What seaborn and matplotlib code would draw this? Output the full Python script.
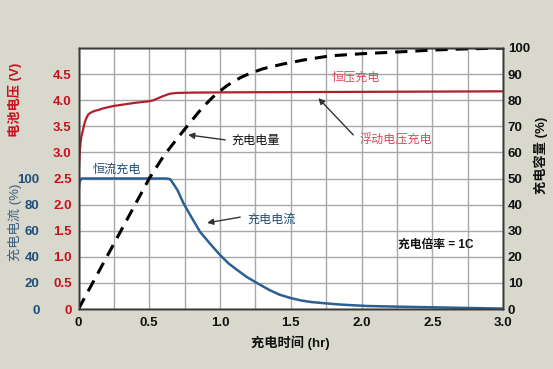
import matplotlib
matplotlib.use("Agg")
import matplotlib.pyplot as plt
import seaborn as sns
import numpy as np

# ---- data ----
volt_t = [0.0, 0.005, 0.01, 0.015, 0.02, 0.026, 0.032, 0.04, 0.05, 0.067, 0.08, 0.1, 0.12, 0.138, 0.17, 0.2, 0.25,
          0.3, 0.35, 0.4, 0.45, 0.5, 0.53, 0.56, 0.59, 0.62, 0.64, 0.66, 0.7, 0.8, 1.0, 1.5, 2.0, 2.5, 3.0]
volt_v = [2.5, 2.8, 3.05, 3.2, 3.3, 3.37, 3.43, 3.53, 3.62, 3.72, 3.75, 3.78, 3.80, 3.81, 3.84, 3.86, 3.89,
          3.91, 3.93, 3.95, 3.965, 3.98, 4.0, 4.035, 4.07, 4.1, 4.12, 4.13, 4.14, 4.145, 4.15, 4.155, 4.16, 4.165, 4.17]

cur_t = [0.0, 0.005, 0.01, 0.02, 0.3, 0.62, 0.648, 0.67, 0.7, 0.742, 0.8, 0.86, 0.93, 1.0, 1.06, 1.12, 1.19, 1.26,
         1.35, 1.42, 1.5, 1.57, 1.64, 1.74, 1.85, 2.04, 2.25, 2.5, 2.75, 3.0]
cur_v = [89, 95, 98, 100, 100, 100, 99.5, 96, 91, 81, 70, 59, 50, 41.4, 35, 30, 24.5, 20,
         14.5, 11, 8.4, 6.6, 5.4, 4.4, 3.4, 2.3, 1.8, 1.3, 0.8, 0.3]

cap_t = [0.0, 0.25, 0.5, 0.6, 0.7, 0.775, 0.85, 0.9, 0.95, 1.0, 1.05, 1.1, 1.15, 1.2, 1.3, 1.44, 1.6, 1.78, 2.0,
         2.3, 2.5, 2.7, 3.0]
cap_v = [0, 25, 50, 58.5, 65.5, 70.5, 75.5, 78.5, 81.2, 83.5, 85.6, 87.3, 88.8, 90, 92, 93.8, 95.5, 97, 97.8,
         98.6, 99.2, 99.6, 100]

x_ticks = [0, 0.5, 1.0, 1.5, 2.0, 2.5, 3.0]
x_labels = ["0", "0.5", "1.0", "1.5", "2.0", "2.5", "3.0"]
v_labels = ["0", "0.5", "1.0", "1.5", "2.0", "2.5", "3.0", "3.5", "4.0", "4.5"]
c_ticks = [0, 20, 40, 60, 80, 100]
q_ticks = [0, 10, 20, 30, 40, 50, 60, 70, 80, 90, 100]

sns.set_theme(style="white")
plt.rcParams['font.family'] = ['Liberation Sans', 'Noto Sans CJK SC', 'DejaVu Sans']
plt.rcParams['axes.unicode_minus'] = False

BG = "#d9d8cc"
RED_LINE = "#b0202c"
RED_TXT = "#c8101e"
PINK = "#d94a5c"
BLUE_LINE = "#2c5f92"
BLUE_TXT = "#1f4e7a"
BLUE_LBL = "#3d5f80"

fig = plt.figure(figsize=(5.53, 3.69), dpi=100, facecolor=BG)
ax = fig.add_axes([78.5/553, 1-309/369, (503-78.5)/553, (309-48)/369])
ax.set_facecolor("white")

ax.set_xlim(0, 3.0)
ax.set_ylim(0, 5.0)
ax.grid(True, color="#a8a8a8", lw=1.0)
ax.set_axisbelow(True)

# voltage
sns.lineplot(x=volt_t, y=volt_v, ax=ax, color=RED_LINE, lw=1.6, estimator=None, sort=False)

# current axis (left, outer)
axc = ax.twinx()
axc.set_ylim(0, 200)
sns.lineplot(x=cur_t, y=cur_v, ax=axc, color=BLUE_LINE, lw=1.8, estimator=None, sort=False)

# capacity axis (right)
axq = ax.twinx()
axq.set_ylim(0, 100)
sns.lineplot(x=cap_t, y=cap_v, ax=axq, color="black", lw=2.2, estimator=None, sort=False)
axq.lines[0].set_linestyle((0, (4, 2.6)))
axq.set_xlim(0, 3.0)

# x ticks labels
grid_x = np.arange(0, 3.01, 0.25)
ax.set_xticks(grid_x)
ax.set_xticklabels([x_labels[x_ticks.index(v)] if v in x_ticks else "" for v in grid_x],
                   fontweight="bold", fontsize=9.5, color="#111111")
ax.tick_params(axis="x", length=0, pad=6)

# voltage tick labels
ax.set_yticks(np.arange(0, 5.01, 0.5))
ax.set_yticklabels(v_labels + [""], fontweight="bold", fontsize=9.5, color=RED_TXT)
ax.tick_params(axis="y", length=0, pad=5)

# current ticks on left
axc.yaxis.set_ticks_position("left")
axc.yaxis.set_label_position("left")
axc.set_yticks(c_ticks)
axc.set_yticklabels([str(v) for v in c_ticks], fontweight="bold", fontsize=9.5, color=BLUE_TXT)
axc.tick_params(axis="y", length=0, pad=28)

# capacity ticks on right
axq.set_yticks(q_ticks)
axq.set_yticklabels([str(v) for v in q_ticks], fontweight="bold", fontsize=9.5, color="#111111")
axq.tick_params(axis="y", length=0, pad=3.5)

for a in (ax, axc, axq):
    for s in a.spines.values():
        s.set_color("#3a3a3a")
        s.set_linewidth(1.0)

ax.set_xlabel("")
ax.set_ylabel("")
axc.set_ylabel("")
axq.set_ylabel("")

# axis titles
fig.text(15/553, 1-100/369, "电池电压 (V)", rotation=90, ha="center", va="center",
         color=RED_TXT, fontsize=9.5, fontweight="bold")
fig.text(15/553, 1-222/369, "充电电流 (%)", rotation=90, ha="center", va="center",
         color=BLUE_LBL, fontsize=9.5)
fig.text(541/553, 1-155/369, "充电容量 (%)", rotation=90, ha="center", va="center",
         color="#111111", fontsize=9.5, fontweight="bold")
fig.text(290/553, 1-343/369, "充电时间 (hr)", ha="center", va="center",
         color="#111111", fontsize=9.5, fontweight="bold")

# annotations (in capacity axis data coordinates)
arrow = dict(arrowstyle="-|>", color="#333333", lw=1.0, mutation_scale=9, shrinkA=0, shrinkB=0)
fs = 8.7
axq.text(1.963, 88.5, "恒压充电", ha="center", va="center", color=PINK, fontsize=fs)
axq.text(2.246, 64.4, "浮动电压充电", ha="center", va="center", color=PINK, fontsize=fs)
axq.annotate("", xy=(1.695, 80.8), xytext=(1.942, 66.7), arrowprops=arrow)
axq.text(1.249, 64.4, "充电电量", ha="center", va="center", color="#111111", fontsize=fs)
axq.annotate("", xy=(0.775, 66.7), xytext=(1.037, 64.8), arrowprops=arrow)
axq.text(0.272, 53.3, "恒流充电", ha="center", va="center", color=BLUE_TXT, fontsize=fs)
axq.text(1.362, 34.1, "充电电流", ha="center", va="center", color=BLUE_TXT, fontsize=fs)
axq.annotate("", xy=(0.909, 33.0), xytext=(1.143, 35.2), arrowprops=arrow)
axq.text(2.26, 24.5, "充电倍率 = 1C", ha="left", va="center", color="#111111",
         fontsize=8.5, fontweight="bold")

fig.savefig("out.png", dpi=100, facecolor=BG)
